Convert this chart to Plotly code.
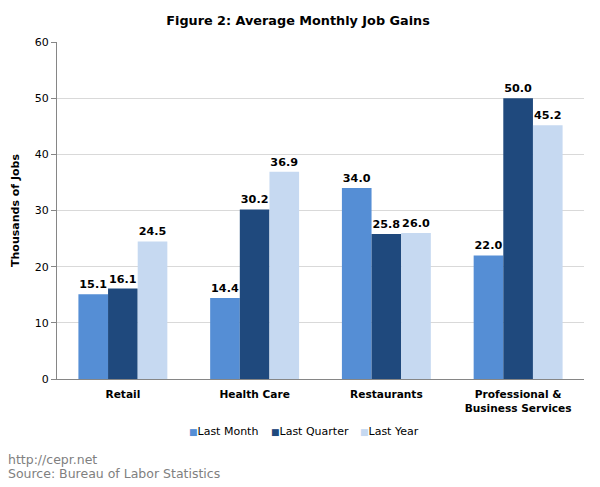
import plotly.graph_objects as go

categories = ["Retail", "Health Care", "Restaurants", "Professional &<br>Business Services"]
last_month = [15.1, 14.4, 34.0, 22.0]
last_quarter = [16.1, 30.2, 25.8, 50.0]
last_year = [24.5, 36.9, 26.0, 45.2]
series_names = ["Last Month", "Last Quarter", "Last Year"]
colors = ["#558ED5", "#1F497D", "#C6D9F1"]
y_ticks = [0, 10, 20, 30, 40, 50, 60]

FONT = "DejaVu Sans"
W, H = 600, 487
ML, MR, MT, MB = 49, 24, 34, 116
PW, PH = W - ML - MR, H - MT - MB


def px_x(x):
    return (x - ML) / PW


def px_y(y):
    return (H - MB - y) / PH


fig = go.Figure()
for name, vals, c in zip(series_names, [last_month, last_quarter, last_year], colors):
    fig.add_trace(go.Bar(
        x=categories, y=vals, name=name, marker_color=c, marker_line_width=0,
        text=[f"{v:.1f}" for v in vals], textposition="outside",
        textfont=dict(family=FONT, size=11.2, color="#000000", weight="bold"),
        constraintext="none", cliponaxis=False, showlegend=False,
    ))

fig.update_layout(
    width=W, height=H,
    margin=dict(l=ML, r=MR, t=MT, b=MB),
    paper_bgcolor="white", plot_bgcolor="white",
    barmode="group", bargap=0.325, bargroupgap=0,
    font=dict(family=FONT, size=11, color="#000000"),
    title=dict(text="<b>Figure 2: Average Monthly Job Gains</b>", xref="container", x=290 / W,
               xanchor="center", y=1 - 13 / H, yanchor="middle",
               font=dict(family=FONT, size=12.8, color="#000000")),
    showlegend=False,
)
fig.update_yaxes(
    range=[0, 60], tickvals=y_ticks, showgrid=True, gridcolor="#D9D9D9", gridwidth=1,
    showline=True, linecolor="#868686", linewidth=1, ticks="outside", ticklen=5,
    tickcolor="#868686", tickfont=dict(family=FONT, size=11, color="#000000"),
    title=dict(text="<b>Thousands of Jobs</b>", font=dict(family=FONT, size=11, color="#000000"), standoff=12),
    zeroline=False, automargin=False,
)
fig.update_xaxes(
    showline=True, linecolor="#868686", linewidth=1, ticks="", ticklabelstandoff=5,
    tickfont=dict(family=FONT, size=10.6, color="#000000", weight="bold"),
    automargin=False,
)

# legend drawn as text entries
legend_x = [179, 261, 350]
for name, c, lx in zip(series_names, colors, legend_x):
    fig.add_annotation(
        text=f'<span style="color:{c};font-size:9px">■</span>{name}',
        xref="paper", yref="paper", x=px_x(lx), y=px_y(423), xanchor="left", yanchor="middle",
        showarrow=False, font=dict(family=FONT, size=11, color="#000000"),
    )

source_lines = ["http://cepr.net", "Source: Bureau of Labor Statistics"]
for line, sy in zip(source_lines, [451, 465]):
    fig.add_annotation(text=line, xref="paper", yref="paper", x=px_x(0), y=px_y(sy),
                       xanchor="left", yanchor="middle", showarrow=False,
                       borderpad=0, borderwidth=0,
                       font=dict(family=FONT, size=12.5, color="#808080"))
fig.write_html("out.html")
